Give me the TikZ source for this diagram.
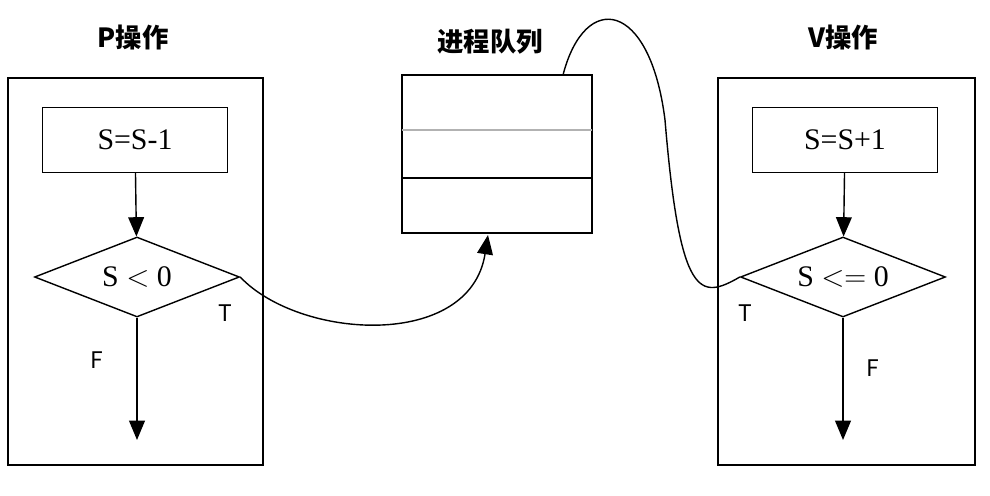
\documentclass[tikz,border=0pt]{standalone}
\usepackage{fontspec}
\newfontfamily\cjk{Noto Sans CJK SC}
\setmainfont{Liberation Serif}
\usetikzlibrary{shapes.geometric,arrows.meta}
\tikzset{
  frame/.style={draw,line width=0.8pt},
  opbox/.style={draw,line width=0.8pt,minimum width=3.7cm,minimum height=1.3cm,font=\fontsize{17}{17}\selectfont},
  test/.style={draw,diamond,aspect=2.55,line width=0.8pt,minimum width=4.1cm,minimum height=1.6cm,inner sep=0pt,font=\fontsize{17}{17}\selectfont},
  title/.style={font=\cjk\fontsize{15}{15}\selectfont\bfseries},
  tag/.style={font=\cjk\fontsize{13}{13}\selectfont},
  flow/.style={-{Triangle[length=11pt,width=9pt]},line width=0.8pt},
}
\begin{document}
\begin{tikzpicture}[x=0.02cm,y=-0.02cm]
        \useasboundingbox (0,0) rectangle (990,496);
        % P operation
        \draw[frame] (8,78) rectangle (263,465);
        \node[title] (ptitle) at (133,38) {P操作};
        \node[opbox] (pdec) at (135,140) {S=S-1};
        \node[test] (ptest) at (137,277) {S $<$ 0};
        \coordinate (pend) at (137,440);
        \draw[flow] (pdec) -- (ptest);
        \draw[flow] (ptest.south) -- (pend);
        \node[tag] (pf) at (97,360) {F};
        \node[tag] (pt) at (225,313) {T};
        % queue
        \node[title] (qtitle) at (490,42) {进程队列};
        \draw[frame] (402,75) rectangle (592,233);
        \draw[gray!60,line width=0.6pt] (402,130) -- (592,130);
        \draw[line width=0.8pt] (402,178) -- (592,178);
        \coordinate (qin) at (488,235);
        \coordinate (qtop) at (563,75);
        \draw[flow] (ptest.east) .. controls (300,340) and (470,350) .. (qin);
        % V operation
        \draw[frame] (718,78) rectangle (975,465);
        \node[title] (vtitle) at (843,38) {V操作};
        \node[opbox] (vinc) at (845,140) {S=S+1};
        \node[test] (vtest) at (843,277) {S $<=$ 0};
        \coordinate (vend) at (843,440);
        \draw[flow] (vinc) -- (vtest);
        \draw[flow] (vtest.south) -- (vend);
        \node[tag] (vf) at (873,368) {F};
        \node[tag] (vt) at (745,313) {T};
        \draw[line width=0.8pt] (qtop) .. controls (585,-10) and (650,0) .. (665,120)
              .. controls (680,300) and (700,300) .. (vtest.west);
\end{tikzpicture}
\end{document}
